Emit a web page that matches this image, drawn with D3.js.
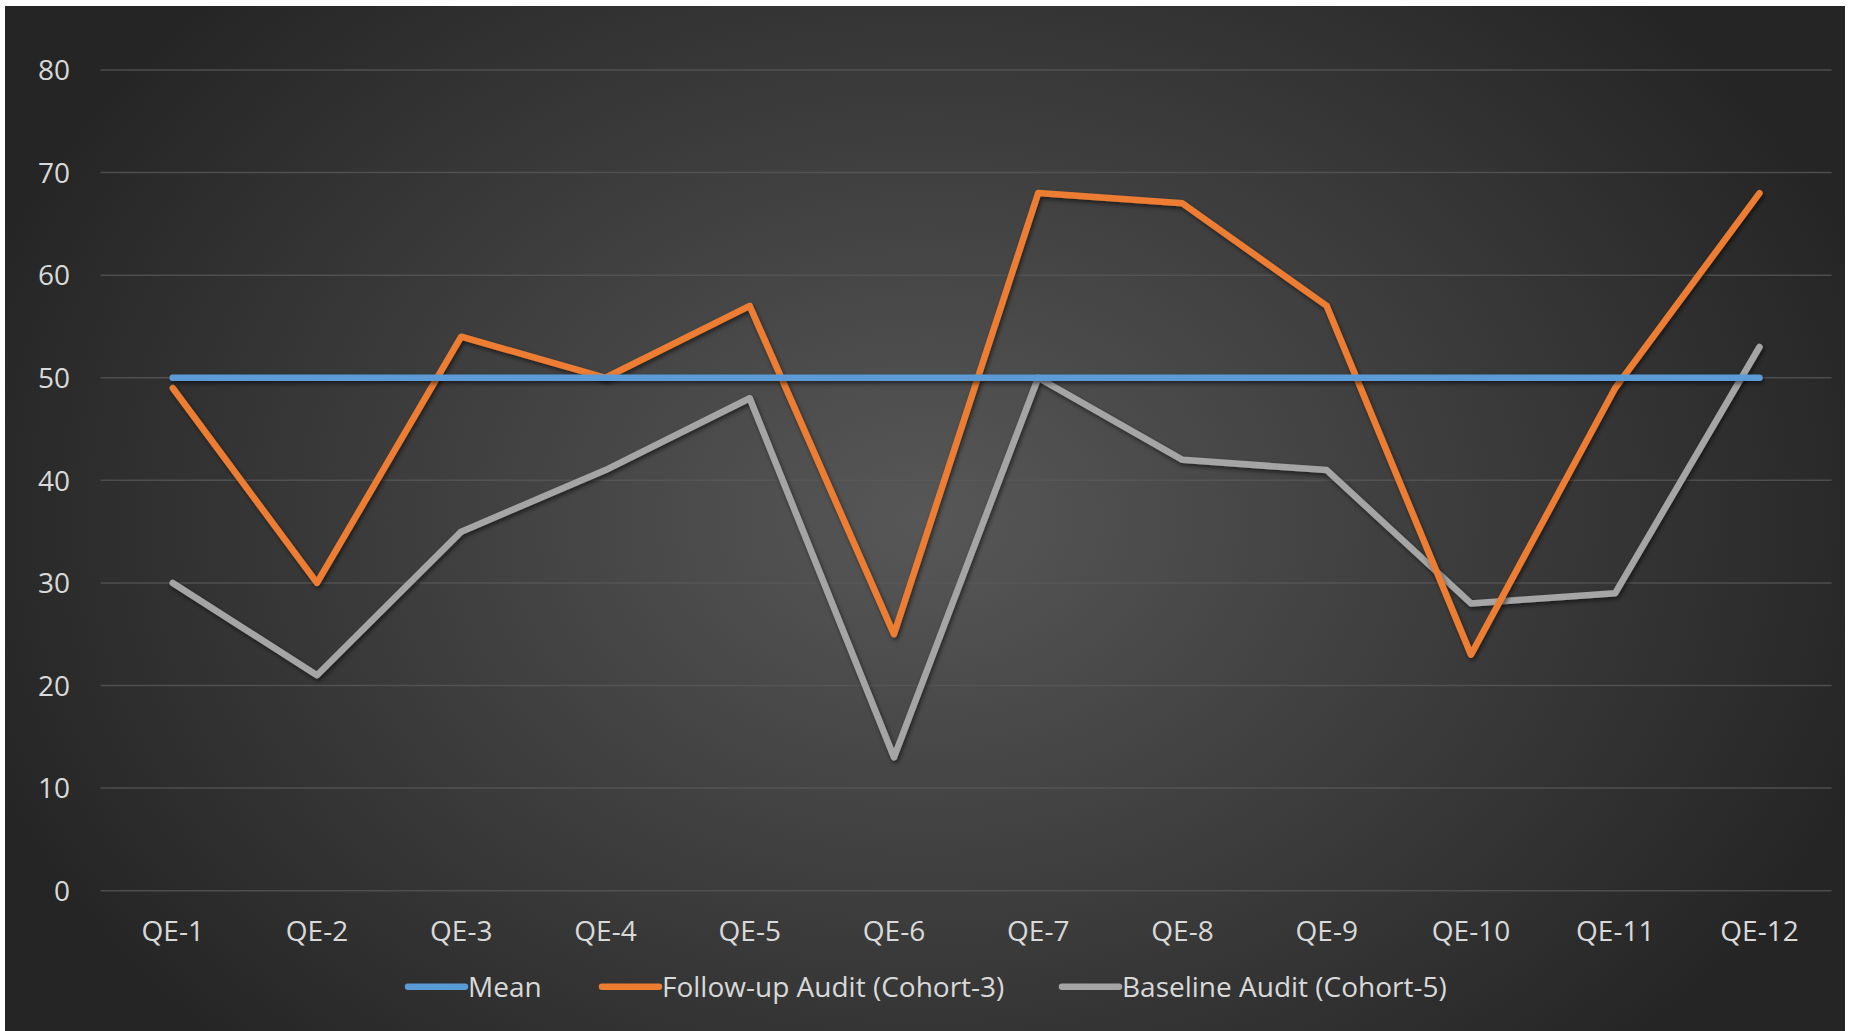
<!DOCTYPE html>
<html><head><meta charset="utf-8">
<script src="https://cdn.jsdelivr.net/npm/d3@7"></script>
<style>html,body{margin:0;padding:0;background:#fff;overflow:hidden}</style>
</head><body>
<script>
const categories = ["QE-1","QE-2","QE-3","QE-4","QE-5","QE-6","QE-7","QE-8","QE-9","QE-10","QE-11","QE-12"];
const meanValues = [50,50,50,50,50,50,50,50,50,50,50,50];
const followUpValues = [49,30,54,50,57,25,68,67,57,23,49,68];
const baselineValues = [30,21,35,41,48,13,50,42,41,28,29,53];
const yTicks = [0,10,20,30,40,50,60,70,80];
const seriesNames = ["Mean","Follow-up Audit (Cohort-3)","Baseline Audit (Cohort-5)"];
const seriesColors = ["#5B9BD5","#ED7D31","#A5A5A5"];

const W = 1855, H = 1031;
const svg = d3.select("body").append("svg").attr("width", W).attr("height", H);
const defs = svg.append("defs");
const grad = defs.append("radialGradient").attr("id","bg")
  .attr("gradientUnits","userSpaceOnUse").attr("cx",925).attr("cy",518).attr("r",1000)
  .attr("gradientTransform","translate(925,518) scale(1,0.75) translate(-925,-518)");
grad.append("stop").attr("offset","0%").attr("stop-color","#575757");
grad.append("stop").attr("offset","100%").attr("stop-color","#252525");
const f = defs.append("filter").attr("id","sh").attr("filterUnits","userSpaceOnUse")
  .attr("x",0).attr("y",0).attr("width",W).attr("height",H);
f.append("feDropShadow").attr("dx",1.5).attr("dy",2.5).attr("stdDeviation",2).attr("flood-color","#000").attr("flood-opacity",0.55);

svg.append("rect").attr("x",5).attr("y",6).attr("width",1840).attr("height",1025).attr("fill","url(#bg)");

const x = d3.scaleBand().domain(categories).range([100.6, 1831.6]);
const y = d3.scaleLinear().domain([0,80]).range([890.7, 70]);
const font = "'Open Sans', sans-serif";
const txt = "#D9D9D9";
const fs = "28px";

// gridlines
svg.append("g").selectAll("line").data(yTicks).join("line")
  .attr("x1", x.range()[0]).attr("x2", x.range()[1])
  .attr("y1", d => y(d)).attr("y2", d => y(d))
  .attr("stroke", "#5a5a5a").attr("stroke-opacity",0.75).attr("stroke-width", 1.5);

// y axis
const ya = svg.append("g").attr("transform","translate(70,0)")
  .call(d3.axisLeft(y).tickValues(yTicks).tickSize(0).tickPadding(0));
ya.select(".domain").remove();
ya.selectAll("text").attr("fill",txt).style("font-family",font).style("font-size",fs).attr("dy","0.35em");

// x axis
const xa = svg.append("g").attr("transform","translate(0,890.7)")
  .call(d3.axisBottom(x).tickSize(0).tickPadding(0));
xa.select(".domain").remove();
xa.selectAll("text").attr("fill",txt).style("font-family",font).style("font-size",fs).attr("dy","0").attr("y",50);

const series = [meanValues, followUpValues, baselineValues];
const line = d3.line().x((d,i) => x(categories[i]) + x.bandwidth()/2).y(d => y(d));
const order = [2,1,0];
svg.append("g").selectAll("path").data(order).join("path")
  .attr("d", k => line(series[k]))
  .attr("fill","none").attr("stroke", k => seriesColors[k]).attr("stroke-width",6.5)
  .attr("stroke-linecap","round").attr("stroke-linejoin","round").attr("filter","url(#sh)");

// legend
const legX = [408, 602, 1062];
const lg = svg.append("g");
seriesNames.forEach((n,i) => {
  lg.append("line").attr("x1",legX[i]).attr("x2",legX[i]+57).attr("y1",986.7).attr("y2",986.7)
    .attr("stroke",seriesColors[i]).attr("stroke-width",6.5).attr("stroke-linecap","round");
  lg.append("text").attr("x",legX[i]+60).attr("y",986.7).attr("dy","0.35em")
    .attr("fill",txt).style("font-family",font).style("font-size",fs).text(n);
});
</script>
</body></html>
